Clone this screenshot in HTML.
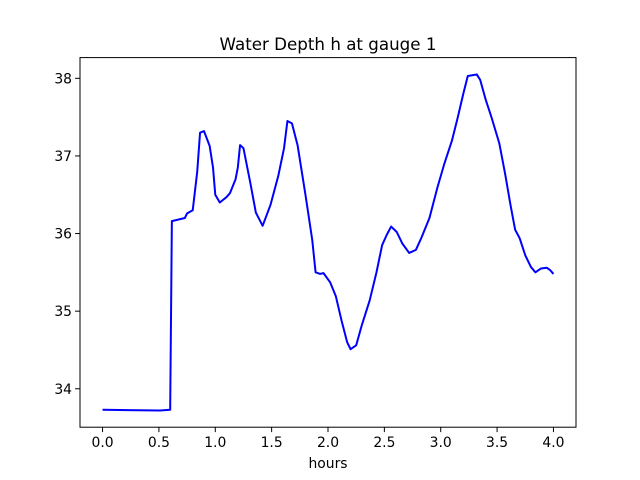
<!DOCTYPE html>
<html><head><meta charset="utf-8">
<style>
html,body{margin:0;padding:0;background:#fff;}
svg{display:block;font-family:"DejaVu Sans","Liberation Sans",sans-serif;}
</style></head>
<body>
<svg id="chart" width="640" height="480" viewBox="0 0 640 480" xmlns="http://www.w3.org/2000/svg">
<rect x="0" y="0" width="640" height="480" fill="#fff"/>
<text x="328" y="50" text-anchor="middle" font-size="16.7">Water Depth h at gauge 1</text>
<g id="plot"></g>
<text x="328" y="468" text-anchor="middle" font-size="13.9">hours</text>
</svg>
<script>
const hours = [0,0.51,0.6,0.615,0.73,0.75,0.8,0.84,0.865,0.9,0.95,0.98,1.0,1.04,1.1,1.13,1.18,1.2,1.22,1.25,1.31,1.36,1.42,1.49,1.56,1.61,1.64,1.68,1.73,1.8,1.86,1.89,1.93,1.96,2.02,2.07,2.12,2.17,2.2,2.25,2.3,2.37,2.43,2.48,2.52,2.56,2.61,2.66,2.72,2.78,2.83,2.9,2.97,3.03,3.1,3.15,3.2,3.24,3.28,3.32,3.35,3.4,3.45,3.52,3.57,3.62,3.66,3.7,3.75,3.8,3.84,3.89,3.94,3.97,4.0];
const depth = [33.73,33.72,33.73,36.16,36.2,36.26,36.3,36.8,37.3,37.32,37.13,36.85,36.5,36.4,36.47,36.52,36.7,36.85,37.14,37.1,36.66,36.27,36.1,36.37,36.75,37.1,37.45,37.42,37.14,36.5,35.92,35.5,35.48,35.49,35.37,35.19,34.88,34.6,34.51,34.56,34.82,35.14,35.5,35.85,35.98,36.09,36.02,35.87,35.75,35.79,35.95,36.2,36.59,36.89,37.2,37.49,37.8,38.03,38.04,38.05,37.98,37.72,37.5,37.16,36.78,36.36,36.05,35.94,35.72,35.57,35.5,35.55,35.56,35.53,35.48];
const xTicks = [0,0.5,1,1.5,2,2.5,3,3.5,4];
const xTickLabels = ["0.0","0.5","1.0","1.5","2.0","2.5","3.0","3.5","4.0"];
const yTicks = [34,35,36,37,38];
const yTickLabels = ["34","35","36","37","38"];

const L=80,R=576,T=57.6,B=427.2;
const xmin=-0.2,xmax=4.2,ymin=33.505,ymax=38.267;
const xs=v=>L+(v-xmin)/(xmax-xmin)*(R-L);
const ys=v=>B-(v-ymin)/(ymax-ymin)*(B-T);
const NS="http://www.w3.org/2000/svg";
const g=document.getElementById('plot');
function mk(tag,attrs){const e=document.createElementNS(NS,tag);for(const k in attrs)e.setAttribute(k,attrs[k]);g.appendChild(e);return e;}

const line=mk('polyline',{points:hours.map((h,i)=>xs(h).toFixed(2)+','+ys(depth[i]).toFixed(2)).join(' '),fill:'none',stroke:'#0000ff','stroke-width':2,'stroke-linejoin':'round'});



const frame=mk('rect',{x:L,y:T,width:R-L,height:B-T,fill:'none',stroke:'#000','stroke-width':1});



xTicks.forEach((v,i)=>{
  const x=xs(v);
  const t=mk('line',{x1:x,x2:x,y1:B,y2:B+4.9,stroke:'#000','stroke-width':1});
  
  
  const lb=mk('text',{x:x,y:B+20,'text-anchor':'middle','font-size':13.9});
  lb.textContent=xTickLabels[i];
  
  
});
yTicks.forEach((v,i)=>{
  const y=ys(v);
  const t=mk('line',{x1:L-4.9,x2:L,y1:y,y2:y,stroke:'#000','stroke-width':1});
  
  
  const lb=mk('text',{x:L-8,y:y+5,'text-anchor':'end','font-size':13.9});
  lb.textContent=yTickLabels[i];
  
  
});
</script>
</body></html>
